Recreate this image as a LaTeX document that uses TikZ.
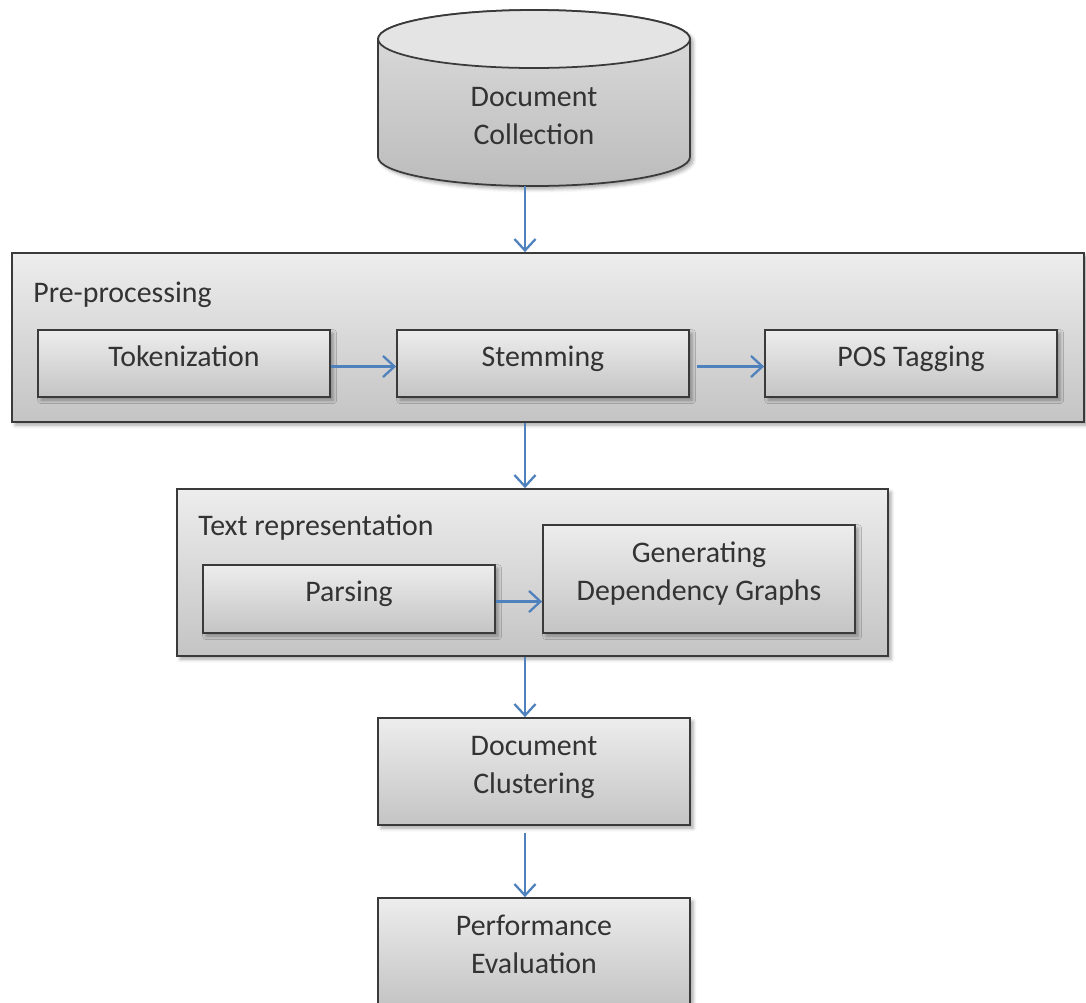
\documentclass[tikz,border=0pt]{standalone}
\usepackage{fontspec}
\setmainfont{Carlito}
\usetikzlibrary{arrows.meta,fit,shadows.blur}

\definecolor{framecol}{HTML}{3A3A3A}
\definecolor{fillTop}{HTML}{EDEDED}
\definecolor{fillBot}{HTML}{C4C4C4}
\definecolor{drumTop}{HTML}{E4E4E4}
\definecolor{drumBodyTop}{HTML}{DDDDDD}
\definecolor{drumBodyBot}{HTML}{BCBCBC}
\definecolor{flowblue}{HTML}{4F81BD}
\definecolor{inkcol}{HTML}{333333}

% centred multi-line text, visually centred on the node centre plus a lift
\newcommand\celltext[2][3.8pt]{\smash{\raisebox{\dimexpr #1-0.32em\relax}{\begin{tabular}[c]{@{}c@{}}#2\end{tabular}}}}

\tikzset{
  softshadow/.style={blur shadow={shadow xshift=1.8pt, shadow yshift=-1.8pt,
      shadow blur radius=2pt, shadow opacity=35}},
  panel/.style={draw=framecol, line width=1pt, top color=fillTop, bottom color=fillBot,
      softshadow, inner sep=0pt, text height=0pt, text depth=0pt,
      text=inkcol, font=\fontsize{17}{21.5}\selectfont},
  stepbox/.style={panel},
  caption/.style={inner sep=0pt, anchor=base west, text=inkcol,
      font=\fontsize{17}{21.5}\selectfont},
  drumtext/.style={inner sep=0pt, text height=0pt, text depth=0pt, text=inkcol,
      font=\fontsize{17}{21.5}\selectfont},
  flow/.style={draw=flowblue, line width=1.3pt,
      -{Straight Barb[length=6.5pt,width=12pt,line join=miter]}},
}

\begin{document}
\begin{tikzpicture}[x=0.02cm, y=-0.02cm]
\useasboundingbox (0,0) rectangle (1086,1002);

% document store drawn as a drum
\path[draw=framecol, line width=1pt, top color=drumBodyTop, bottom color=drumBodyBot, softshadow]
  (378,39) -- (378,157)
  arc[start angle=180, end angle=360, x radius=3.12cm, y radius=0.58cm]
  -- (690,39)
  arc[start angle=0, end angle=180, x radius=3.12cm, y radius=0.58cm] -- cycle;
\path[draw=framecol, line width=1pt, fill=drumTop]
  (534,39) ellipse[x radius=3.12cm, y radius=0.58cm];
\node[drumtext] (dc) at (534,116) {\celltext[0pt]{Document\\Collection}};
\coordinate (dcbot) at (525,186);
\coordinate (spine) at (525,0);

% pre-processing stage
\node[panel, fit={(12,253) (1084,422)}] (pre) {};
\node[caption] (prelbl) at (33,302) {Pre-processing};
\node[stepbox, fit={(38,330) (330,397)}] (tok) {\celltext{Tokenization}};
\node[stepbox, fit={(397,330) (689,397)}] (stem) {\celltext{Stemming}};
\node[stepbox, fit={(765,330) (1057,397)}] (pos) {\celltext{POS Tagging}};

% text representation stage
\node[panel, fit={(177,489) (888,656)}] (tr) {};
\node[caption] (trlbl) at (198,535) {Text representation};
\node[stepbox, fit={(203,565) (495,633)}] (parse) {\celltext{Parsing}};
\node[stepbox, fit={(543,525) (855,633)}] (gen) {\celltext{Generating\\Dependency Graphs}};

% clustering and evaluation
\node[stepbox, fit={(378,718) (690,825)}] (clu) {\celltext{Document\\Clustering}};
\node[stepbox, fit={(378,898) (690,1005)}] (perf) {\celltext{Performance\\Evaluation}};

% connectors
\draw[flow] (dcbot) -- (pre.north -| dcbot);
\draw[flow] ([yshift=-0.06cm]tok.east) -- ([yshift=-0.06cm]stem.west);
\draw[flow, shorten <=0.14cm] ([yshift=-0.06cm]stem.east) -- ([yshift=-0.06cm]pos.west);
\draw[flow] (pre.south -| spine) -- (tr.north -| spine);
\draw[flow] ([yshift=-0.05cm]parse.east) -- ([yshift=-0.05cm]gen.west |- parse.east);
\draw[flow] (tr.south -| spine) -- (clu.north -| spine);
\draw[flow, shorten <=0.14cm] (clu.south -| spine) -- (perf.north -| spine);
\end{tikzpicture}
\end{document}
